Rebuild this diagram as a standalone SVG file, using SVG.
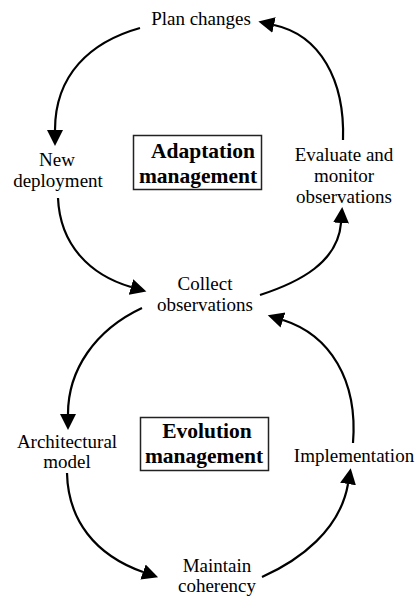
<svg xmlns="http://www.w3.org/2000/svg" width="417" height="599" viewBox="0 0 417 599">
<defs>
<marker id="ah" markerUnits="userSpaceOnUse" markerWidth="20" markerHeight="20" refX="0" refY="8" orient="auto" viewBox="0 0 20 16">
<path d="M0,0 L16,8 L0,16 z" fill="#000"/>
</marker>
</defs>
<rect width="417" height="599" fill="#fff"/>
<g id="connectors" fill="none" stroke="#000" stroke-width="2.2">
<path marker-end="url(#ah)" d="M140,28 C90,42 55,75 55,130"/>
<path marker-end="url(#ah)" d="M58,198 C60,245 90,275 131,287"/>
<path marker-end="url(#ah)" d="M260,295 C300,282 338,262 341,223"/>
<path marker-end="url(#ah)" d="M343,140 C345,80 320,35 274,25"/>
<path marker-end="url(#ah)" d="M142,308 C95,330 68,370 68,414"/>
<path marker-end="url(#ah)" d="M67,473 C68,520 95,555 143,572"/>
<path marker-end="url(#ah)" d="M262,577 C300,560 340,530 348,484"/>
<path marker-end="url(#ah)" d="M353,443 C358,380 330,335 283,320"/>
</g>
<g id="adaptation">
<rect x="133.5" y="135.5" width="128" height="54" fill="#fff" stroke="#222" stroke-width="1.5"/>
<text x="203" y="158" font-family="Tinos, Liberation Serif, serif" font-weight="bold" font-size="21.5" text-anchor="middle">Adaptation</text>
<text x="198" y="183" font-family="Tinos, Liberation Serif, serif" font-weight="bold" font-size="21.5" text-anchor="middle">management</text>
</g>
<g id="evolution">
<rect x="140.5" y="417.5" width="128" height="53" fill="#fff" stroke="#222" stroke-width="1.5"/>
<text x="207" y="438" font-family="Tinos, Liberation Serif, serif" font-weight="bold" font-size="21.5" text-anchor="middle">Evolution</text>
<text x="204" y="463" font-family="Tinos, Liberation Serif, serif" font-weight="bold" font-size="21.5" text-anchor="middle">management</text>
</g>
<g id="plan-changes"><text x="201" y="25" font-family="Tinos, Liberation Serif, serif" font-size="19" text-anchor="middle">Plan changes</text></g>
<g id="new-deployment"><text x="57" y="166" font-family="Tinos, Liberation Serif, serif" font-size="19" text-anchor="middle">New</text><text x="58" y="187" font-family="Tinos, Liberation Serif, serif" font-size="19" text-anchor="middle">deployment</text></g>
<g id="collect-observations"><text x="205" y="290" font-family="Tinos, Liberation Serif, serif" font-size="19" text-anchor="middle">Collect</text><text x="205" y="311" font-family="Tinos, Liberation Serif, serif" font-size="19" text-anchor="middle">observations</text></g>
<g id="evaluate"><text x="344" y="161" font-family="Tinos, Liberation Serif, serif" font-size="19" text-anchor="middle">Evaluate and</text><text x="344" y="182" font-family="Tinos, Liberation Serif, serif" font-size="19" text-anchor="middle">monitor</text><text x="344" y="203" font-family="Tinos, Liberation Serif, serif" font-size="19" text-anchor="middle">observations</text></g>
<g id="architectural-model"><text x="67" y="448" font-family="Tinos, Liberation Serif, serif" font-size="19" text-anchor="middle">Architectural</text><text x="67" y="468" font-family="Tinos, Liberation Serif, serif" font-size="19" text-anchor="middle">model</text></g>
<g id="maintain-coherency"><text x="217" y="572" font-family="Tinos, Liberation Serif, serif" font-size="19" text-anchor="middle">Maintain</text><text x="217" y="592" font-family="Tinos, Liberation Serif, serif" font-size="19" text-anchor="middle">coherency</text></g>
<g id="implementation"><text x="354" y="462" font-family="Tinos, Liberation Serif, serif" font-size="19" text-anchor="middle">Implementation</text></g>
</svg>
